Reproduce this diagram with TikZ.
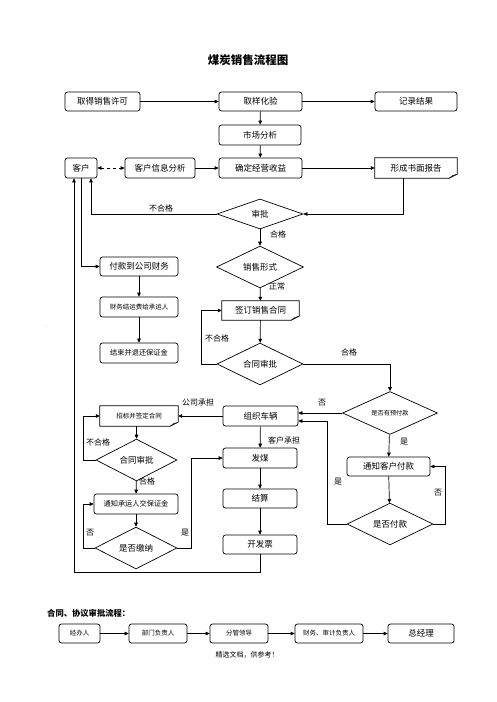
\documentclass[tikz,border=0pt]{standalone}
\usepackage{fontspec}
\setmainfont{Noto Sans CJK SC}
\usetikzlibrary{shapes.geometric,arrows.meta,calc}
\tikzset{
  box/.style={draw, line width=0.7pt, rounded corners=2.5pt, minimum height=19pt, inner sep=1pt, font=\fontsize{8.5}{9}\selectfont},
  sbox/.style={box, font=\fontsize{6.5}{7}\selectfont},
  docnode/.style={draw=none, minimum height=20pt, inner sep=1pt, font=\fontsize{8.5}{9}\selectfont},
  dia/.style={diamond, draw, line width=0.7pt, inner sep=0pt, font=\fontsize{8.5}{9}\selectfont},
  arr/.style={line width=0.7pt, -{Triangle[length=4pt,width=3.6pt]}},
  ln/.style={line width=0.7pt},
  lab/.style={font=\fontsize{8}{9}\selectfont, inner sep=0pt},
}
\newcommand\docoutline[1]{%
  \draw[line width=0.7pt] (#1.north west) -- (#1.north east) -- ([yshift=4pt]#1.south east)
    -- ([xshift=-8pt]#1.south east) -- (#1.south west) -- cycle;
  \draw[line width=0.5pt] ([yshift=4pt]#1.south east) .. controls ([xshift=-4pt,yshift=2.5pt]#1.south east) and ([xshift=-6pt,yshift=3pt]#1.south east) .. ([xshift=-8pt]#1.south east);}
\begin{document}
\begin{tikzpicture}[x=1pt,y=-1pt]
\useasboundingbox[fill=white] (0,0) rectangle (496,702);
% title
\node[font=\fontsize{11.5}{12}\selectfont\bfseries] (title) at (248,60) {煤炭销售流程图};
% top rows
\node[box, minimum width=75pt] (A) at (102.5,101.5) {取得销售许可};
\node[box, minimum width=83pt] (B) at (260.5,101.5) {取样化验};
\node[box, minimum width=82pt] (C) at (416,101.5) {记录结果};
\node[box, minimum width=82pt, minimum height=20pt] (D) at (260,135) {市场分析};
\node[box, minimum width=32pt, minimum height=20pt] (E) at (81,168) {客户};
\node[box, minimum width=70pt, minimum height=20pt] (F) at (160,168) {客户信息分析};
\node[box, minimum width=83pt, minimum height=20pt] (G) at (260.5,168) {确定经营收益};
\node[docnode, minimum width=82pt] (H) at (416,168) {形成书面报告};
\docoutline{H}
% decisions
\node[dia, minimum width=86pt, minimum height=30pt] (I) at (260,214) {审批};
\node[dia, minimum width=87pt, minimum height=32pt] (J) at (260,267) {销售形式};
\node[docnode, minimum width=77pt, minimum height=19pt] (K) at (260.5,310.5) {签订销售合同};
\docoutline{K}
\node[box, minimum width=78pt] (L) at (139,266.5) {付款到公司财务};
\node[sbox, minimum width=78pt, minimum height=20pt] (M) at (139,307) {财务结运费给承运人};
\node[sbox, minimum width=78pt, minimum height=20pt, font=\fontsize{7.2}{8}\selectfont] (N) at (139,353) {结束并退还保证金};
\node[dia, minimum width=86pt, minimum height=32pt] (O) at (260,364) {合同审批};
\node[dia, minimum width=95pt, minimum height=32pt, font=\fontsize{6.2}{7}\selectfont] (P) at (390,413) {是否有预付款};
\node[box, minimum width=75pt, minimum height=20pt] (Q) at (260.5,416) {组织车辆};
\node[docnode, minimum width=78pt, font=\fontsize{6.5}{7}\selectfont] (R) at (139,416) {招标并签定合同};
\docoutline{R}
\node[dia, minimum width=81pt, minimum height=32pt] (S) at (136.5,460) {合同审批};
\node[sbox, minimum width=84pt, minimum height=20pt, font=\fontsize{7.2}{8}\selectfont] (T) at (136,504) {通知承运人交保证金};
\node[dia, minimum width=82pt, minimum height=32pt] (U) at (136,548) {是否缴纳};
\node[box, minimum width=74pt, minimum height=20pt] (V) at (260,458) {发煤};
\node[box, minimum width=74pt] (W) at (260,498.5) {结算};
\node[box, minimum width=74pt] (X) at (260,544.5) {开发票};
\node[box, minimum width=83pt] (Y) at (388.5,466.5) {通知客户付款};
\node[dia, minimum width=86pt, minimum height=32pt] (Z) at (390,524) {是否付款};
% tiny mark
\node[font=\fontsize{4}{4}\selectfont, inner sep=0pt] (dot) at (47,326) {.};
% connectors top
\draw[arr] (A) -- (B);
\draw[arr] (B) -- (C);
\draw[arr] (B) -- (D);
\draw[arr] (D) -- (G);
\draw[line width=0.7pt, dashed, {Triangle[length=4pt,width=3.6pt]}-{Triangle[length=4pt,width=3.6pt]}] (E) -- (F);
\draw[arr] (F) -- (G);
\draw[arr] (G) -- (H);
\draw[arr] ([xshift=-13pt]H.south) |- (I.east);
\draw[arr] (I.west) -| ([xshift=10pt]E.south);
\node[lab] (l1) at (161,208) {不合格};
\draw[arr] (I) -- (J);
\node[lab] (l2) at (278,234) {合格};
\draw[arr] (J) -- (K);
\node[lab] (l3) at (277,286) {正常};
\draw[arr] (E.south) |- (L.west);
\draw[arr] (L) -- (M);
\draw[arr] (M) -- (N);
\draw[arr] (K) -- (O);
\coordinate (c1) at (201,364);
\draw[arr] (O.west) -- (c1) |- (K.west);
\node[lab] (l4) at (217,338) {不合格};
\draw[arr] (O.east) -| (P.north);
\node[lab] (l5) at (349,352) {合格};
\draw[arr] (P.west) -- (P.west -| Q.east);
\node[lab] (l6) at (322,403) {否};
\draw[arr] (Q.west) -- (R.east);
\node[lab] (l7) at (198,402) {公司承担};
\draw[arr] (Q) -- (V);
\node[lab] (l8) at (284,440) {客户承担};
\draw[arr] (R.south -| S.north) -- (S.north);
\coordinate (c2) at (83,460);
\draw[arr] (S.west) -- (c2) |- (R.west);
\node[lab] (l9) at (98,442) {不合格};
\draw[arr] (S) -- (T);
\node[lab] (l10) at (147,481) {合格};
\draw[arr] (T) -- (U);
\coordinate (c3) at (83,548);
\draw[arr] (U.west) -- (c3) |- (T.west);
\node[lab] (l11) at (90,533) {否};
\coordinate (c4) at (191,548);
\draw[arr] (U.east) -- (c4) |- (V.west);
\node[lab] (l12) at (185,533) {是};
\draw[arr] (V) -- (W);
\draw[arr] (W) -- (X);
\coordinate (c5) at (260,572);
\draw[arr] (X.south) -- (c5) -| ([xshift=-7pt]E.south);
\draw[arr] (P) -- (Y);
\node[lab] (l13) at (404,442) {是};
\draw[arr] (Y) -- (Z);
\coordinate (c6) at (445,524);
\draw[arr] (Z.east) -- (c6) |- (Y.east);
\node[lab] (l14) at (438,493) {否};
\coordinate (c7) at (327,524);
\draw[arr] (Z.west) -- (c7) |- ([yshift=-5pt]Q.east);
\node[lab] (l15) at (338,482) {是};
% bottom section
\node[font=\fontsize{8.3}{9}\selectfont\bfseries, anchor=west, inner sep=0pt] (h2) at (47,613) {合同、协议审批流程：};
\node[sbox, minimum width=41pt] (b1) at (79.5,633.5) {经办人};
\node[sbox, minimum width=58pt] (b2) at (158,633.5) {部门负责人};
\node[sbox, minimum width=58pt] (b3) at (239,633.5) {分管领导};
\node[sbox, minimum width=68pt] (b4) at (329,633.5) {财务、审计负责人};
\node[box, minimum width=66pt] (b5) at (421,633.5) {总经理};
\draw[arr] (b1) -- (b2);
\draw[arr] (b2) -- (b3);
\draw[arr] (b3) -- (b4);
\draw[arr] (b4) -- (b5);
\node[font=\fontsize{7}{8}\selectfont, inner sep=0pt] (foot) at (247,655) {精选文档，供参考！};
\end{tikzpicture}
\end{document}
